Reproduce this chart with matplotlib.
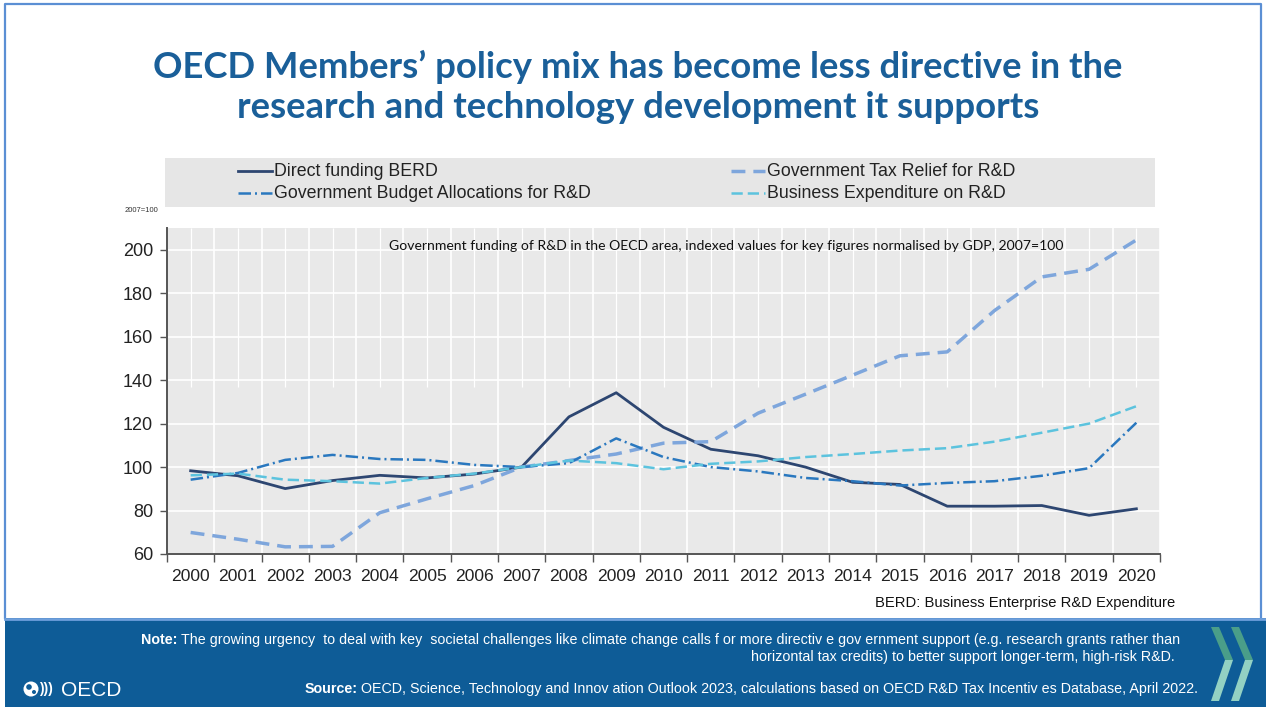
import matplotlib
matplotlib.use("Agg")
import matplotlib.pyplot as plt
from matplotlib.patches import Rectangle, Polygon, Circle
import numpy as np

years = list(range(2000, 2021))
direct_funding = [98.3, 96.0, 90.1, 93.8, 96.2, 95.0, 96.8, 100.0, 123.1, 134.2, 118.3,
                  108.2, 105.2, 100.0, 93.0, 92.0, 82.0, 82.0, 82.3, 77.8, 80.8]
tax_relief = [69.9, 66.8, 63.3, 63.5, 79.0, 85.4, 91.5, 100.0, 103.0, 106.0, 111.0,
              111.7, 124.8, 133.5, 142.3, 151.2, 153.0, 172.0, 187.5, 191.0, 204.5]
gbard = [94.2, 97.3, 103.3, 105.6, 103.7, 103.3, 101.0, 100.0, 101.8, 113.2, 104.6,
         100.0, 98.0, 95.0, 93.5, 91.5, 92.7, 93.5, 96.0, 99.5, 120.4]
business_exp = [96.2, 97.0, 94.2, 93.5, 92.4, 95.0, 97.0, 100.0, 103.0, 101.8, 99.0,
                101.5, 102.6, 104.6, 106.0, 107.6, 108.7, 111.7, 115.8, 120.0, 128.0]

series_labels = ["Direct funding BERD", "Government Tax Relief for R&D",
                 "Government Budget Allocations for R&D", "Business Expenditure on R&D"]
yticks = [60, 80, 100, 120, 140, 160, 180, 200]

SANS = "Liberation Sans"

W, H = 1266, 707
fig = plt.figure(figsize=(W / 100, H / 100), dpi=100)

# full-figure axes in pixel coords for the slide decorations
bg = fig.add_axes([0, 0, 1, 1], zorder=0)
bg.set_xlim(0, W)
bg.set_ylim(H, 0)
bg.axis("off")

# slide frame + footer band
bg.plot([5, 5, 1261, 1261], [618, 4, 4, 618], color="#5b8fd4", lw=1.6)
bg.add_patch(Rectangle((5, 618), W - 5, H - 618, color="#0e5c97", lw=0))
bg.plot([5, W], [619, 619], color="#6e9fdc", lw=2)

title_kw = dict(ha="center", va="center", fontsize=26.3, fontweight="bold",
                color="#1a5f99", family="Lato")
bg.text(638, 67, "OECD Members\u2019 policy mix has become less directive in the", **title_kw)
bg.text(638, 107, "research and technology development it supports", **title_kw)

# legend box
bg.add_patch(Rectangle((165, 158), 990, 49, color="#e6e6e6", lw=0))
styles = [
    dict(color="#2d4671", lw=2.0),
    dict(color="#7ea6dc", lw=2.5, dashes=(4, 2.3)),
    dict(color="#2a78bf", lw=1.8, dashes=(5, 1.6, 0.8, 1.6)),
    dict(color="#5cc3de", lw=1.8, dashes=(4.5, 2)),
]
legend_pos = [(238, 171), (731, 171), (238, 193), (731, 193)]
for (lx, ly), st, lab in zip(legend_pos, styles, series_labels):
    bg.plot([lx, lx + 34], [ly, ly], **st)
    bg.text(lx + 36, ly, lab, ha="left", va="center", fontsize=12.8,
            family=SANS, color="#222222")

bg.text(141, 211, "2007=100", ha="center", va="center", fontsize=5.5,
        family=SANS, color="#333333")

# chart
ax = fig.add_axes([167 / W, 1 - 554 / H, (1160 - 167) / W, (554 - 228) / H], zorder=2)
ax.set_facecolor("#e9e9e9")
ax.set_xlim(1999.5, 2020.5)
ax.set_ylim(60, 210)
ax.set_yticks(yticks)
ax.set_xticks(years)
ax.set_xticks(np.arange(1999.5, 2021, 1), minor=True)
ax.set_axisbelow(True)
ax.grid(axis="y", which="major", color="white", lw=1.2)
ax.grid(axis="x", which="minor", color="white", lw=1.2)
ax.vlines(years, 137, 210, color="white", lw=0.9, zorder=0.5)

for side in ["top", "right"]:
    ax.spines[side].set_visible(False)
for side in ["left", "bottom"]:
    ax.spines[side].set_color("#555555")
    ax.spines[side].set_linewidth(1.4)

ax.tick_params(axis="y", length=5, width=1, color="#555555", labelsize=13,
               labelcolor="#222222", pad=5)
ax.tick_params(axis="x", which="major", length=0, labelsize=12.6,
               labelcolor="#222222", pad=11)
ax.tick_params(axis="x", which="minor", length=6, width=1, color="#555555")
for t in ax.get_xticklabels() + ax.get_yticklabels():
    t.set_fontfamily(SANS)

for vals, st in zip([direct_funding, tax_relief, gbard, business_exp], styles):
    ax.plot(years, vals, zorder=3, **st)

ax.text(726, 246, "Government funding of R&D in the OECD area, indexed values for key "
        "figures normalised by GDP, 2007=100", transform=bg.transData,
        ha="center", va="center", fontsize=10.1, family="Lato", color="#111111")

bg.text(1175, 603, "BERD: Business Enterprise R&D Expenditure", ha="right",
        va="center", fontsize=10.6, family=SANS, color="#111111")

# footer texts
foot_kw = dict(va="center", fontsize=10.3, family=SANS, color="white")
note1 = bg.text(1180, 640, "The growing urgency  to deal with key  societal challenges like "
                "climate change calls f or more directiv e gov ernment support (e.g. "
                "research grants rather than", ha="right", **foot_kw)
bg.text(1175, 657, "horizontal tax credits) to better support longer-term, high-risk R&D.",
        ha="right", **foot_kw)
src = bg.text(1198, 689, "OECD, Science, Technology and Innov ation Outlook 2023, calculations "
              "based on OECD R&D Tax Incentiv es Database, April 2022.", ha="right", **foot_kw)

fig.canvas.draw()
r = fig.canvas.get_renderer()
for t, lab, y in [(note1, "Note:", 640), (src, "Source:", 689)]:
    x0 = t.get_window_extent(r).x0
    bg.text(x0 - 3, y, lab, ha="right", va="center", fontsize=10.3, family=SANS,
            fontweight="bold", color="white")

# OECD logo
bg.add_patch(Circle((31, 689), 7.5, color="white", lw=0))
bg.add_patch(Circle((29, 687), 2.8, color="#0e5c97", lw=0))
bg.add_patch(Circle((34, 692), 2.0, color="#0e5c97", lw=0))
bg.text(39, 689, ")))", ha="left", va="center", fontsize=10, fontweight="bold",
        family=SANS, color="white")
bg.text(61, 690, "OECD", ha="left", va="center", fontsize=15,
        family=SANS, color="white")

# chevrons
for x0 in (1211, 1231):
    w, dx, yt, ym, yb = 8, 14, 627, 660, 701
    bg.add_patch(Polygon([(x0, yt), (x0 + w, yt), (x0 + w + dx, ym), (x0 + dx, ym)],
                         closed=True, color="#4a9e89", lw=0))
    bg.add_patch(Polygon([(x0 + dx, ym), (x0 + w + dx, ym), (x0 + w, yb), (x0, yb)],
                         closed=True, color="#93d1c3", lw=0))

fig.savefig("out.png", dpi=100)
